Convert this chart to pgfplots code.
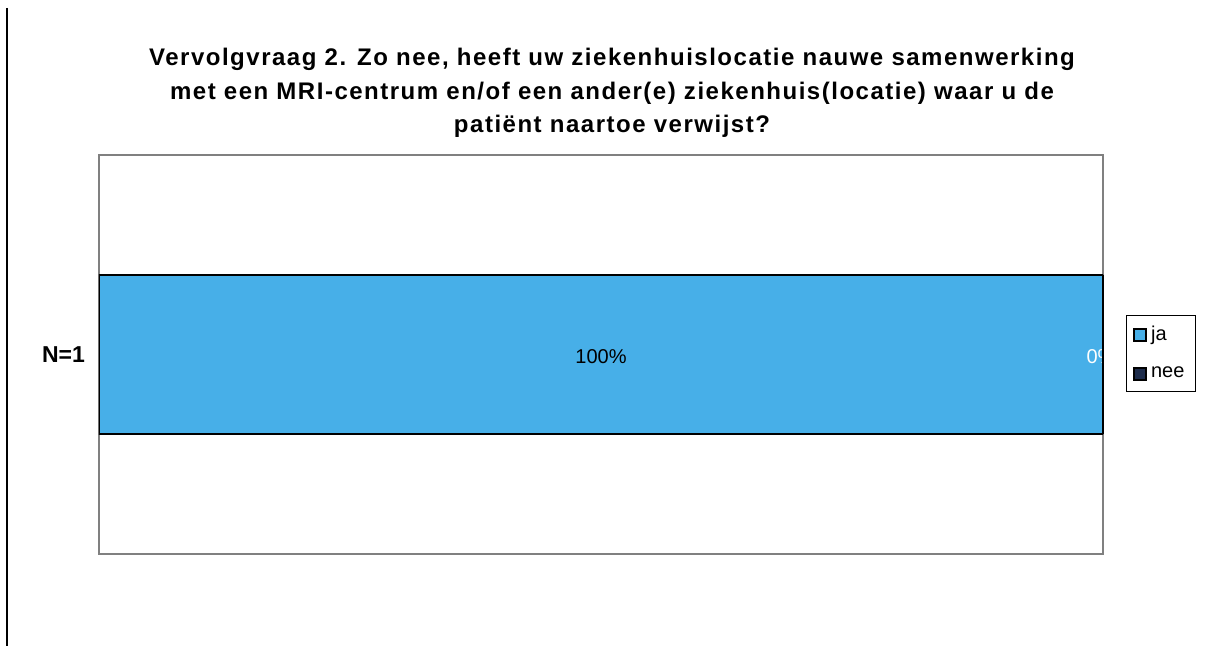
\documentclass[border=0pt]{standalone}
\usepackage{fontspec}
\setmainfont{Liberation Sans}
\usepackage{pgfplots}
\pgfplotsset{compat=1.18}
\definecolor{jablue}{RGB}{71,175,232}
\definecolor{neenavy}{RGB}{28,43,74}
\definecolor{framegray}{RGB}{128,128,128}
\begin{document}
\begin{tikzpicture}
\begin{axis}[
 at={(0,0)}, anchor=south west,
 scale only axis, width=502pt, height=199.5pt,
 xbar stacked, bar width=79.5pt,
 xmin=0, xmax=100, ymin=0, ymax=1,
 xtick=\empty, ytick={0.5}, yticklabels={\textbf{N=1}},
 major tick length=0pt,
 yticklabel style={font=\fontsize{11.5}{13}\selectfont, xshift=-3.5pt},
 axis line style={framegray, line width=1pt},
 legend style={at={(1.0229,0.599)}, anchor=north west, draw=black, line width=0.5pt,
   font=\fontsize{10}{12}\selectfont, row sep=7.5pt, inner xsep=3.5pt, inner ysep=3.5pt},
 legend cell align=left,
 legend image code/.code={\draw[#1, line width=0.8pt] (0pt,-3pt) rectangle (6pt,3pt);},
]
\addplot[fill=jablue, draw=black, line width=1pt] coordinates {(100,0.5)};
\addplot[fill=neenavy, draw=black, line width=1pt] coordinates {(0,0.5)};
\legend{ja,nee}
\coordinate (lab100) at (axis cs:50,0.5);
\coordinate (lab0) at (axis cs:99.8,0.5);
\end{axis}
\node[font=\fontsize{10}{12}\selectfont] at ([yshift=-1pt]lab100) {100\%};
\begin{scope}
\clip (0,0) rectangle (501.5pt,199.5pt);
\node[white, font=\fontsize{10}{12}\selectfont] at ([yshift=-1pt]lab0) {0\%};
\end{scope}
\draw[black, line width=1pt] (502pt,60pt) -- (502pt,139.5pt);
\node[font=\fontsize{12}{16.8}\selectfont\bfseries\addfontfeature{LetterSpace=6.3}, align=center] at (256.5pt,230.5pt)
 {Vervolgvraag 2. Zo nee, heeft uw ziekenhuislocatie nauwe samenwerking\\
  met een MRI-centrum en/of een ander(e) ziekenhuis(locatie) waar u de\\
  patiënt naartoe verwijst?};
\draw[black, line width=0.6pt] (-46pt,273pt) -- (-46pt,-46pt);
\pgfresetboundingbox
\path[use as bounding box] (-49.5pt,-46pt) rectangle (556.5pt,277pt);
\end{tikzpicture}
\end{document}
